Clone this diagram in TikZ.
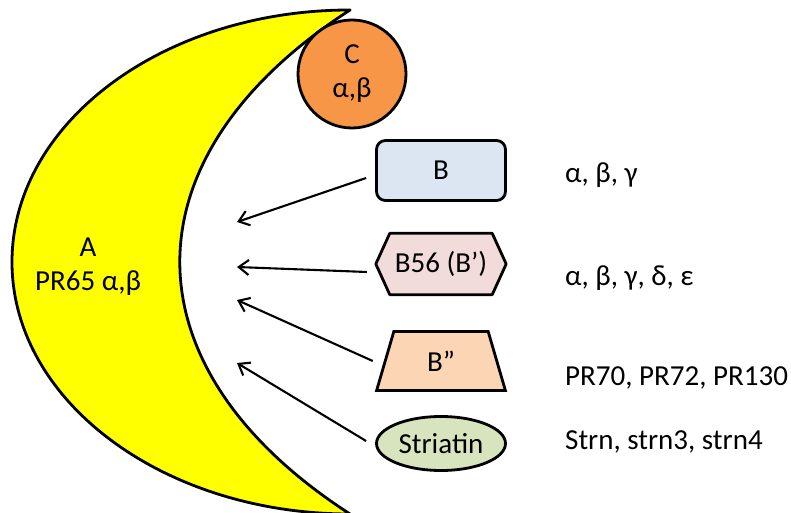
\documentclass[tikz,border=0pt]{standalone}
\usepackage{fontspec}
\setmainfont{Carlito}
\usetikzlibrary{shapes.geometric,arrows.meta,backgrounds}
\definecolor{moonyellow}{HTML}{FFFF00}
\definecolor{corange}{HTML}{F79646}
\definecolor{bblue}{HTML}{DCE6F2}
\definecolor{bpink}{HTML}{F2DCDB}
\definecolor{bpeach}{HTML}{FCD5B5}
\definecolor{bgreen}{HTML}{D7E4BD}
\tikzset{
  lbl/.style={font=\fontsize{29}{34}\selectfont},
  shp/.style={draw=black, line width=2.8pt, inner sep=0pt, lbl},
  arr/.style={-{Straight Barb[length=10pt,width=15pt]}, line width=2.1pt},
  side/.style={lbl, anchor=base west, inner sep=0pt}
}
\begin{document}
\begin{tikzpicture}[x=1pt,y=1pt]
\useasboundingbox (0,0) rectangle (791,513);
% crescent A
\draw[fill=moonyellow, line width=2.8pt, line join=round]
  (350,503) arc[start angle=90, end angle=270, x radius=338, y radius=252]
  arc[start angle=219.4, end angle=140.6, x radius=749, y radius=397] -- cycle;
\node[lbl, align=center, inner sep=0pt] (a) at (88,246) {A\\PR65 α,β};
% C
\node[shp, circle, fill=corange, minimum size=108pt, align=center] (c) at (352,439) {C\\α,β};
% B
\node[shp, rectangle, rounded corners=9pt, fill=bblue, minimum width=129pt, minimum height=60pt] (b) at (441,342.5) {B};
% B56 hexagon
\node[lbl, inner sep=0pt, minimum width=130pt, minimum height=61pt] (h) at (441,249) {B56 (B’)};
\begin{scope}[on background layer]
\draw[fill=bpink, line width=2.8pt, line join=round]
  (h.west) -- ([xshift=14pt]h.north west) -- ([xshift=-14pt]h.north east)
  -- (h.east) -- ([xshift=-14pt]h.south east) -- ([xshift=14pt]h.south west) -- cycle;
\end{scope}
% B'' trapezium
\node[shp, trapezium, trapezium stretches=true, trapezium left angle=76, trapezium right angle=76,
  minimum width=129pt, minimum height=59pt, fill=bpeach] (bpp) at (441,152) {B”};
% Striatin
\node[shp, ellipse, fill=bgreen, minimum width=129pt, minimum height=54pt] (s) at (441,69.5) {Striatin};
% arrow ends
\coordinate (e1) at (237,291);
\coordinate (e2) at (237,246);
\coordinate (e3) at (237,213);
\coordinate (e4) at (237,150);
\draw[arr] ([shift={(-9,-7.5)}]b.west) -- (e1);
\draw[arr] ([shift={(-9,-8)}]h.west) -- (e2);
\draw[arr] ([xshift=-11pt]bpp.left side) -- (e3);
\draw[arr] ([shift={(-9,2.5)}]s.west) -- (e4);
% side labels
\node[side] (l1) at (565,330) {α, β, γ};
\node[side] (l2) at (565,227) {α, β, γ, δ, ε};
\node[side] (l3) at (565,127) {PR70, PR72, PR130};
\node[side] (l4) at (565,63) {Strn, strn3, strn4};
\end{tikzpicture}
\end{document}
